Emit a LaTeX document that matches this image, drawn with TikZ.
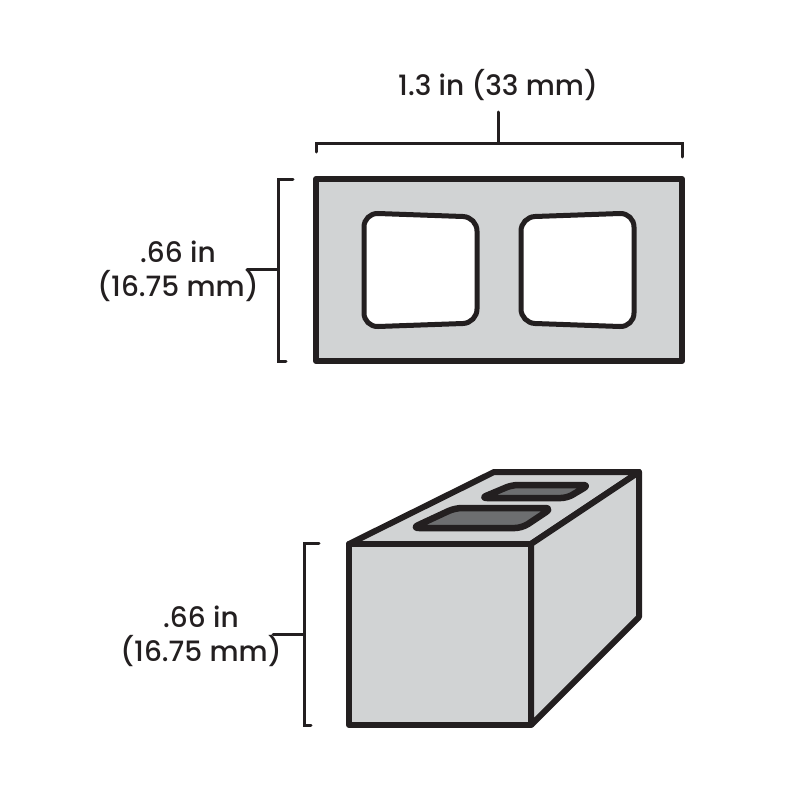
\documentclass[tikz,border=0pt]{standalone}
\usepackage{fontspec}
\setmainfont{Poppins Medium}
\definecolor{blockgrey}{HTML}{D1D3D4}
\definecolor{holegrey}{HTML}{6D6E70}
\definecolor{inkblack}{HTML}{231F20}
\tikzset{
  blockline/.style={draw=inkblack,line width=6pt,line join=round,line cap=round},
  holeline/.style={draw=inkblack,line width=5pt,rounded corners=14pt},
  slotline/.style={blockline,line width=6.5pt,fill=holegrey},
  dimline/.style={draw=inkblack,line width=3pt,line cap=round,line join=miter},
  dimtext/.style={text=inkblack,font=\fontsize{28}{34}\selectfont,align=center,inner sep=0pt}
}
\begin{document}
\begin{tikzpicture}[x=1pt,y=-1pt]
\useasboundingbox (0,0) rectangle (800,800);

%top view
\draw[blockline,fill=blockgrey] (316,179) rectangle (682,361);
\draw[holeline,fill=white] (364,213)--(477,217)--(477,323)--(364,327)--cycle;
\draw[holeline,fill=white] (521,217)--(634,213)--(634,327)--(521,323)--cycle;

%top view dimensions
\coordinate (widthleft) at (316,143);
\coordinate (widthright) at (682,143);
\coordinate (widthmid) at (498,143);
\coordinate (widthstem) at (498,112);
\draw[dimline] (316,152)--(widthleft)--(widthright)--(682,157);
\draw[dimline] (widthmid)--(widthstem);
\node[dimtext] (widthlabel) at (498,85) {1.3 in (33 mm)};

\coordinate (heighttop) at (278,179);
\coordinate (heightbot) at (278,361);
\coordinate (heightmid) at (278,269);
\coordinate (heightstem) at (247,269);
\draw[dimline] (293,179)--(heighttop)--(heightbot)--(286,361);
\draw[dimline] (heightmid)--(heightstem);
\node[dimtext] (heightlabel) at (178,271) {.66 in\\(16.75 mm)};

%block in perspective
\draw[blockline,fill=blockgrey] (349,544)--(494,472)--(639,472)--(531,544)--cycle;
\draw[blockline,fill=blockgrey] (531,544)--(639,472)--(639,617)--(531,725)--cycle;
\draw[blockline,fill=blockgrey] (349,544) rectangle (531,725);
\draw[slotline,rounded corners=7pt] (412,528)--(455,508)--(552,508)--(522,528)--cycle;
\draw[slotline,rounded corners=6pt] (481,498)--(512,485)--(589,485)--(567,498)--cycle;

%block dimensions
\coordinate (sidetop) at (304,543);
\coordinate (sidebot) at (304,725);
\coordinate (sidemid) at (304,634);
\coordinate (sidestem) at (273,634);
\draw[dimline] (319,543)--(sidetop)--(sidebot)--(311,725);
\draw[dimline] (sidemid)--(sidestem);
\node[dimtext] (sidelabel) at (201,636) {.66 in\\(16.75 mm)};
\end{tikzpicture}
\end{document}
